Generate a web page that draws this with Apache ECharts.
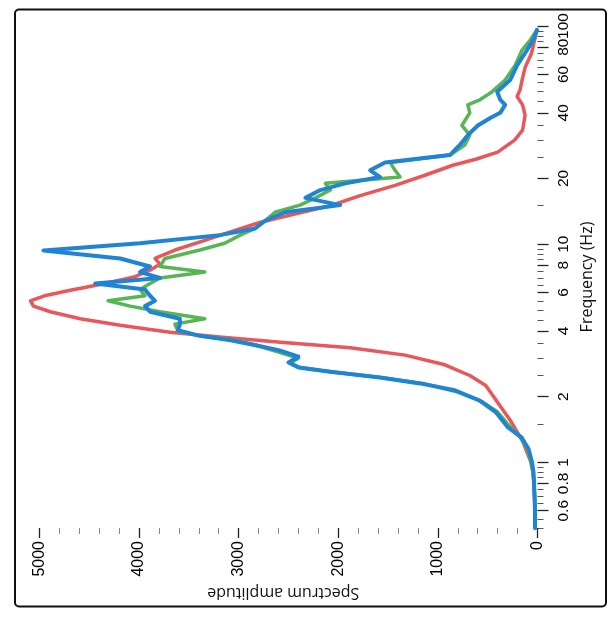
<!DOCTYPE html>
<html><head><meta charset="utf-8">
<script src="https://cdn.jsdelivr.net/npm/echarts@6/dist/echarts.min.js"></script>
<style>html,body{margin:0;padding:0;background:#fff}#c{width:613px;height:619px}</style>
</head><body><div id="c"></div>
<script>
// Frequency (Hz) / spectrum amplitude for three series
const redFreq = [0.5,0.6,0.7,0.8,0.9,1.0,1.25,1.55,1.8,2.0,2.25,2.5,2.8,3.1,3.35,3.55,3.75,3.95,4.25,4.55,4.9,5.2,5.5,5.8,6.15,6.6,7.1,7.6,8.1,8.6,9.4,10.4,11.6,12.6,13.6,15,16.7,18.6,20.7,23,24.5,26.4,30,33.3,39,43.5,47.5,51,56.5,64.5,75,86,96];
const redAmp  = [25,25,30,35,45,65,150,270,370,440,520,680,930,1330,1880,2580,3190,3690,4190,4590,4890,5060,5090,4950,4690,4340,4040,3890,3790,3840,3640,3340,3030,2780,2480,2080,1780,1430,1130,850,620,400,230,150,125,150,205,175,155,125,60,30,5];

const greenFreq = [0.5,0.6,0.7,0.8,0.9,1.0,1.15,1.3,1.5,1.7,1.9,2.1,2.3,2.45,2.6,2.72,2.85,3.0,3.2,3.45,3.65,3.8,4.0,4.3,4.55,4.9,5.2,5.5,5.8,6.2,6.6,7.0,7.45,7.9,8.6,9.4,10.1,11.0,11.8,12.8,14.0,15.1,16.3,17.7,19.0,20.3,21.8,23.7,25.6,28.5,31.6,35,40,43.5,46,50,56.5,66,77.6,86,96];
const greenAmp  = [25,25,30,35,45,65,100,170,300,400,560,800,1150,1580,2080,2380,2480,2400,2600,2830,3080,3390,3610,3640,3340,3790,4090,4310,3940,3990,3890,3790,3340,3790,3740,3390,3140,2985,2835,2735,2635,2385,2230,2080,2130,1380,1430,1480,880,730,680,760,680,700,575,455,325,225,155,75,5];

const blueFreq = [0.5,0.6,0.7,0.8,0.9,1.0,1.15,1.3,1.45,1.7,1.92,2.14,2.3,2.45,2.6,2.72,2.87,3.05,3.26,3.44,3.63,3.8,4.03,4.3,4.55,4.9,5.2,5.5,5.8,6.2,6.6,7.0,7.45,7.9,8.6,9.35,10.1,11.0,11.8,12.8,14.0,15.1,16.3,17.7,19.0,20.3,21.8,23.7,25.6,28.5,31.6,35,38,40,43.5,46,50,56.5,66,77.6,86,96];
const blueAmp  = [25,25,30,35,40,55,90,160,300,420,580,830,1180,1580,2080,2400,2500,2400,2590,2830,3080,3390,3610,3590,3590,3890,3940,3840,3890,3940,4440,3790,3990,3890,4190,4960,3990,3190,2835,2735,2535,1980,2330,2180,1930,1580,1680,1530,880,780,700,600,470,375,325,375,405,275,205,105,45,5];

// Tick positions and labels
const freqMajorTicks = [0.6,0.8,1,2,4,6,8,10,20,40,60,80,100];
const freqLabels = [0.6,0.8,1,2,4,6,8,10,20,40,60,80];
const freqTopLabel = [100];
const freqMinorTicks = [0.5,0.55,0.65,0.7,0.75,0.85,0.9,0.95,1.5,2.5,3,3.5,4.5,5,5.5,6.5,7,7.5,8.5,9,9.5,15,25,30,35,45,50,55,65,70,75,85,90,95];
const ampMajorTicks = [0,1000,2000,3000,4000,5000];
const ampMinorTicks = [200,400,600,800,1200,1400,1600,1800,2200,2400,2600,2800,3200,3400,3600,3800,4200,4400,4600,4800];

function pairs(f, a) { return f.map((v, i) => [a[i], v]); }

const chart = echarts.init(document.getElementById('c'), null, {renderer: 'canvas'});
const AMIN = -45, AMAX = 5150, FMIN = 0.5, FMAX = 100;
const tickFont = 'Liberation Sans, Arial, sans-serif';
const nameFont = 'Open Sans, sans-serif';
const fmtFreq = v => String(parseFloat(Number(v).toPrecision(6)));

chart.setOption({
  animation: false,
  backgroundColor: '#fff',
  grid: {left: 24.5, right: 71, top: 26, bottom: 91, containLabel: false, outerBoundsMode: 'none'},
  xAxis: [
    {
      type: 'value', position: 'bottom', inverse: true, min: AMIN, max: AMAX,
      name: 'Spectrum amplitude', nameLocation: 'middle', nameRotate: 180, nameGap: 50,
      nameTextStyle: {fontFamily: nameFont, fontSize: 16, color: '#111'},
      axisLine: {show: false},
      splitLine: {show: false},
      axisTick: {show: true, inside: false, length: 10, customValues: ampMajorTicks, lineStyle: {color: '#222', width: 1.3}},
      axisLabel: {show: true, rotate: 90, margin: 13, customValues: ampMajorTicks, fontFamily: tickFont, fontSize: 16, color: '#000',
                  showMinLabel: true, showMaxLabel: true, hideOverlap: false,
                  formatter: v => String(Math.round(v))}
    },
    {
      type: 'value', position: 'bottom', inverse: true, min: AMIN, max: AMAX,
      axisLine: {show: false}, splitLine: {show: false},
      axisTick: {show: true, length: 6, customValues: ampMinorTicks, lineStyle: {color: '#888', width: 1}},
      axisLabel: {show: false}
    }
  ],
  yAxis: [
    {
      type: 'log', logBase: 10, position: 'right', min: FMIN, max: FMAX,
      name: 'Frequency (Hz)', nameLocation: 'middle', nameRotate: 90, nameGap: 37,
      nameTextStyle: {fontFamily: nameFont, fontSize: 16, color: '#111'},
      axisLine: {show: false}, splitLine: {show: false}, minorTick: {show: false},
      axisTick: {show: true, length: 11, customValues: freqMajorTicks, lineStyle: {color: '#222', width: 1.3}},
      axisLabel: {show: true, rotate: 90, margin: 14, customValues: freqLabels, fontFamily: tickFont, fontSize: 15.5, color: '#000',
                  showMinLabel: true, showMaxLabel: true, hideOverlap: false, formatter: fmtFreq}
    },
    {
      type: 'log', logBase: 10, position: 'right', min: FMIN, max: FMAX,
      axisLine: {show: false}, splitLine: {show: false},
      axisTick: {show: true, length: 6, customValues: freqMinorTicks, lineStyle: {color: '#555', width: 1}},
      axisLabel: {show: false}
    },
    {
      type: 'log', logBase: 10, position: 'right', min: FMIN, max: FMAX,
      axisLine: {show: false}, splitLine: {show: false}, axisTick: {show: false},
      axisLabel: {show: true, rotate: 90, margin: 14, customValues: freqTopLabel, fontFamily: tickFont, fontSize: 15.5, color: '#000',
                  showMinLabel: true, showMaxLabel: true, hideOverlap: false, formatter: fmtFreq}
    }
  ],
  graphic: [{
    type: 'rect', shape: {x: 15, y: 9.5, width: 591, height: 597, r: 4},
    style: {fill: 'none', stroke: '#111', lineWidth: 2}, silent: true
  }],
  series: [
    {type: 'line', name: 'red', data: pairs(redFreq, redAmp), showSymbol: false, symbol: 'none',
     lineStyle: {color: '#e8575a', width: 3.5, join: 'round', cap: 'round'}, xAxisIndex: 0, yAxisIndex: 0},
    {type: 'line', name: 'green', data: pairs(greenFreq, greenAmp), showSymbol: false, symbol: 'none',
     lineStyle: {color: '#58b553', width: 3.5, join: 'round', cap: 'round'}, xAxisIndex: 0, yAxisIndex: 0},
    {type: 'line', name: 'blue', data: pairs(blueFreq, blueAmp), showSymbol: false, symbol: 'none',
     lineStyle: {color: '#1f84d3', width: 4, join: 'round', cap: 'round'}, xAxisIndex: 0, yAxisIndex: 0}
  ]
});
</script></body></html>
